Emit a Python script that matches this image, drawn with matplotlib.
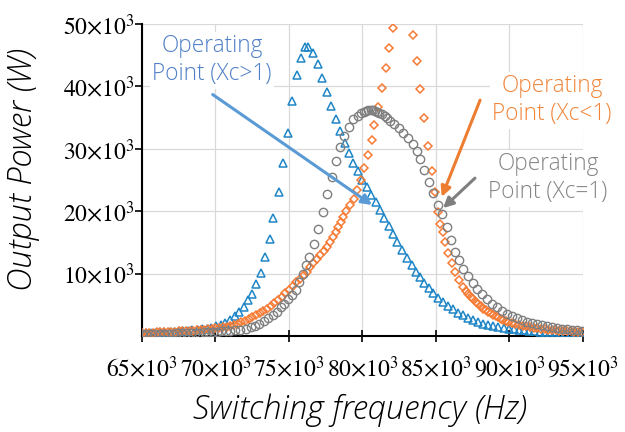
import matplotlib
matplotlib.use("Agg")
import matplotlib.pyplot as plt
import numpy as np
from matplotlib.ticker import FuncFormatter

# switching frequency (kHz) and output power (kW)
blue_f = [65.0, 65.3, 65.6, 65.9, 66.2, 66.5, 66.9, 67.2, 67.5, 67.8, 68.1, 68.4, 68.8, 69.1, 69.4, 69.7,
          70.03, 70.35, 70.67, 71.0, 71.31, 71.62, 71.92, 72.19, 72.5, 72.78, 73.1, 73.37, 73.71, 73.93,
          74.32, 74.61, 74.91, 75.20, 75.52, 75.82, 76.09, 76.31, 76.65, 76.97, 77.27, 77.59, 77.86, 78.18,
          78.47, 78.79, 79.06, 79.37, 79.69, 79.99, 80.29, 80.58, 80.90, 81.19, 81.48, 81.80, 82.10, 82.37,
          82.71, 83.01, 83.35, 83.64, 83.91, 84.20, 84.52, 84.82, 85.16, 85.50, 85.84, 86.18, 86.52, 86.86,
          87.20, 87.54, 87.88, 88.22, 88.56, 88.9, 89.25, 89.6, 89.95, 90.3, 90.65, 91.0, 91.35, 91.7,
          92.05, 92.4, 92.75, 93.1, 93.45, 93.8, 94.15, 94.5, 94.85]
blue_p = [0.45, 0.5, 0.52, 0.55, 0.58, 0.62, 0.66, 0.7, 0.75, 0.8, 0.86, 0.93, 1.0, 1.08, 1.17, 1.3,
          1.6, 1.8, 2.1, 2.56, 3.2, 3.85, 4.6, 5.7, 6.8, 8.3, 10.1, 12.7, 15.5, 18.9,
          23.0, 27.8, 32.6, 37.7, 41.9, 44.6, 46.3, 46.3, 45.3, 43.6, 41.4, 39.1, 36.9, 34.7,
          32.8, 31.0, 29.3, 27.8, 26.4, 25.0, 23.9, 22.6, 21.4, 20.2, 18.9, 17.6, 16.3, 15.0,
          13.8, 12.5, 11.4, 10.3, 9.5, 8.5, 7.7, 6.9, 6.1, 5.5, 4.8, 4.3, 3.7, 3.4,
          2.9, 2.6, 2.3, 2.0, 1.8, 1.6, 1.45, 1.3, 1.2, 1.1, 1.0, 0.92, 0.85, 0.78,
          0.72, 0.67, 0.62, 0.58, 0.54, 0.5, 0.47, 0.45, 0.42]

gray_f = [65.0, 65.3, 65.6, 65.9, 66.2, 66.5, 66.8, 67.1, 67.4, 67.7, 68.0, 68.3, 68.6, 68.9, 69.2, 69.5,
          69.8, 70.1, 70.4, 70.7, 71.0, 71.3, 71.67, 72.07, 72.41, 72.69, 72.98, 73.30, 73.59, 73.89,
          74.16, 74.44, 74.68, 74.95, 75.20, 75.46, 75.70, 75.92, 76.15, 76.38, 76.70, 76.99, 77.29, 77.59,
          77.90, 78.20, 78.47, 78.76, 79.08, 79.37, 79.67, 79.90, 80.10, 80.25, 80.40, 80.55, 80.70, 80.85,
          81.00, 81.15, 81.30, 81.50, 81.70, 81.90, 82.16, 82.48, 82.78, 83.07, 83.41, 83.69, 83.91, 84.20,
          84.52, 84.82, 85.12, 85.39, 85.73, 86.00, 86.29, 86.59, 86.86, 87.20, 87.50, 87.81, 88.13, 88.45,
          88.79, 89.13, 89.47, 89.81, 90.15, 90.49, 90.83, 91.17, 91.51, 91.85, 92.19, 92.53, 92.87, 93.21,
          93.55, 93.89, 94.23, 94.57, 94.91]
gray_p = [0.3, 0.3, 0.31, 0.32, 0.33, 0.35, 0.37, 0.39, 0.41, 0.43, 0.46, 0.49, 0.52, 0.55, 0.59, 0.63,
          0.67, 0.71, 0.75, 0.8, 0.85, 0.9, 0.96, 1.17, 1.4, 1.6, 1.9, 2.36, 2.84, 3.37,
          3.9, 4.6, 5.2, 5.9, 6.6, 7.3, 8.6, 10.0, 11.3, 12.7, 14.7, 17.1, 19.9, 22.8,
          25.5, 28.1, 30.3, 32.1, 33.5, 34.7, 35.3, 35.7, 35.95, 36.1, 36.2, 36.2, 36.15, 36.05,
          35.9, 35.7, 35.5, 35.2, 34.9, 34.5, 34.0, 33.4, 32.6, 31.7, 30.7, 29.6, 28.3, 26.6,
          24.7, 22.9, 21.0, 19.6, 17.5, 15.4, 13.5, 12.2, 10.8, 9.6, 8.5, 7.6, 6.7, 5.9,
          5.2, 4.6, 4.05, 3.6, 3.2, 2.85, 2.55, 2.3, 2.1, 1.9, 1.7, 1.55, 1.4, 1.3,
          1.2, 1.1, 1.0, 0.92, 0.85]

orange_f = [65.0, 65.25, 65.5, 65.75, 66.0, 66.25, 66.5, 66.75, 67.0, 67.25, 67.5, 67.75, 68.0, 68.25, 68.5,
            68.75, 69.0, 69.25, 69.5, 69.75, 70.0, 70.25, 70.5, 70.75, 71.0, 71.25, 71.5, 71.75, 72.0, 72.25,
            72.5, 72.75, 73.0, 73.25, 73.5, 73.75, 74.0, 74.25, 74.5, 74.75, 75.0, 75.25, 75.5, 75.75, 76.0,
            76.2, 76.45, 76.65, 76.9, 77.11, 77.35, 77.56, 77.8, 78.01, 78.2, 78.35, 78.52, 78.69, 78.9,
            79.15, 79.42, 79.65, 79.88, 80.12, 80.40, 80.62, 80.80, 81.07, 81.31, 81.60, 81.82, 82.05,
            83.46, 83.73, 83.91, 84.20, 84.48, 84.71, 84.93, 85.12, 85.30, 85.45, 85.61, 85.84, 86.07, 86.29,
            86.59, 86.86,
            87.03, 87.20, 87.37, 87.54, 87.71, 87.88, 88.05, 88.22, 88.39, 88.56, 88.73, 88.90, 89.07, 89.24,
            89.41, 89.58, 89.75, 89.92,
            90.15, 90.4, 90.65, 90.9, 91.15, 91.4, 91.65, 91.9, 92.15, 92.4, 92.65, 92.9, 93.15, 93.4,
            93.65, 93.9, 94.15, 94.4, 94.65, 94.9]
orange_p = [0.5, 0.52, 0.54, 0.56, 0.58, 0.6, 0.62, 0.65, 0.68, 0.71, 0.74, 0.77, 0.8, 0.84, 0.88,
            0.92, 0.97, 1.02, 1.08, 1.15, 1.22, 1.3, 1.4, 1.5, 1.65, 1.8, 2.0, 2.2, 2.45, 2.7,
            3.0, 3.3, 3.65, 4.0, 4.4, 4.85, 5.3, 5.8, 6.3, 6.85, 7.4, 8.0, 8.6, 9.2, 9.8,
            10.3, 11.0, 11.65, 12.3, 13.0, 13.6, 14.3, 15.0, 15.9, 16.7, 17.5, 18.3, 19.1, 20.0,
            21.0, 22.0, 23.4, 25.0, 26.9, 29.0, 31.4, 33.8, 36.7, 39.7, 42.9, 46.2, 49.3,
            48.2, 44.1, 39.6, 35.0, 30.4, 26.4, 23.0, 19.9, 18.0, 16.6, 15.1, 13.3, 11.7, 10.3,
            9.0, 7.8,
            7.2, 6.7, 6.3, 5.9, 5.5, 5.1, 4.75, 4.4, 4.15, 3.9, 3.65, 3.4, 3.2, 3.0,
            2.8, 2.6, 2.45, 2.3,
            2.1, 1.95, 1.8, 1.65, 1.55, 1.45, 1.35, 1.25, 1.17, 1.1, 1.03, 0.97, 0.92, 0.87,
            0.82, 0.78, 0.74, 0.7, 0.67, 0.64]

x_ticks = [65, 70, 75, 80, 85, 90, 95]
y_ticks = [10, 20, 30, 40, 50]

plt.rcParams['mathtext.fontset'] = 'stix'

fig = plt.figure(figsize=(6.25, 4.32), dpi=100)
ax = fig.add_axes([0.2272, 0.2222, 0.7056, 0.7222])

# markers
ax.plot(np.array(blue_f) * 1e3, np.array(blue_p) * 1e3, ls='none', marker='^', ms=5.5,
        mfc='none', mec='#1f86c6', mew=1.1, zorder=3)
ax.plot(np.array(orange_f) * 1e3, np.array(orange_p) * 1e3, ls='none', marker='D', ms=3.8,
        mfc='none', mec='#f57b35', mew=1.1, zorder=3)
ax.plot(np.array(gray_f) * 1e3, np.array(gray_p) * 1e3, ls='none', marker='o', ms=6,
        mfc='none', mec='#7f7f7f', mew=1.0, zorder=3)

ax.set_xlim(65e3, 95e3)
ax.set_ylim(0, 50e3)
ax.set_xticks([v * 1e3 for v in x_ticks])
ax.set_yticks([v * 1e3 for v in y_ticks])
sci = FuncFormatter(lambda v, pos: r'$%d{\times}10^{3}$' % round(v / 1e3))
ax.xaxis.set_major_formatter(sci)
ax.yaxis.set_major_formatter(sci)
ax.tick_params(axis='x', direction='inout', length=8, width=1.2, pad=10, labelsize=17)
ax.tick_params(axis='y', direction='out', length=5, width=1.2, pad=0, labelsize=17)

ax.grid(True, color='#d9d9d9', lw=0.9, zorder=0)
for t in ax.yaxis.get_major_ticks():
    if abs(t.get_loc() - 20e3) < 1:
        t.gridline.set_linestyle((0, (3, 2)))
        t.gridline.set_color('#bdbdbd')
ax.spines['top'].set_visible(False)
ax.spines['right'].set_visible(False)
ax.spines['left'].set_linewidth(1.5)
ax.spines['bottom'].set_linewidth(1.5)

ax.set_xlabel('Switching frequency (Hz)', family='Open Sans', style='italic', weight='light',
              fontsize=23.5, va='center')
ax.xaxis.set_label_coords(0.494, -0.237)
ax.set_ylabel('Output Power (W)', family='Open Sans', style='italic', weight='light',
              fontsize=23.5, va='center')
ax.yaxis.set_label_coords(-0.27, 0.535)

# annotations
box = dict(facecolor='white', edgecolor='none', pad=2)
ax.text(69.76e3, 44.2e3, 'Operating\nPoint (Xc>1)', color='#4f7fc6', family='Open Sans', weight='light',
        fontsize=16.3, ha='center', va='center', linespacing=1.2, bbox=box, zorder=4)
ax.text(92.89e3, 37.8e3, 'Operating\nPoint (Xc<1)', color='#f0853a', family='Open Sans', weight='light',
        fontsize=16.3, ha='center', va='center', linespacing=1.2, bbox=box, zorder=4)
ax.text(92.62e3, 25.3e3, 'Operating\nPoint (Xc=1)', color='#858585', family='Open Sans', weight='light',
        fontsize=16.3, ha='center', va='center', linespacing=1.2, bbox=box, zorder=4)

ax.annotate('', xy=(80.65e3, 21.0e3), xytext=(69.81e3, 38.7e3),
            arrowprops=dict(arrowstyle='-|>,head_length=0.6,head_width=0.3', color='#5b9bd5', lw=2.2,
                            shrinkA=0, shrinkB=0), zorder=5)
ax.annotate('', xy=(85.39e3, 22.3e3), xytext=(88.0e3, 37.8e3),
            arrowprops=dict(arrowstyle='-|>,head_length=0.6,head_width=0.3', color='#ed7d31', lw=2.2,
                            shrinkA=0, shrinkB=0), zorder=5)
ax.annotate('', xy=(85.48e3, 20.5e3), xytext=(87.65e3, 25.3e3),
            arrowprops=dict(arrowstyle='-|>,head_length=0.6,head_width=0.3', color='#7f7f7f', lw=2.2,
                            shrinkA=0, shrinkB=0), zorder=5)

fig.savefig('out.png', dpi=100)
